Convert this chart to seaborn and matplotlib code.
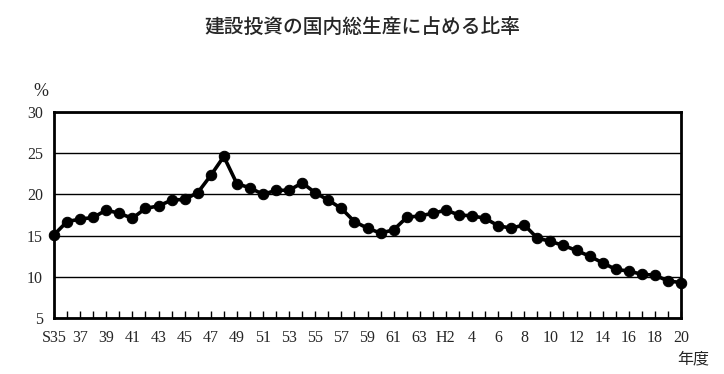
import matplotlib
matplotlib.use("Agg")
import matplotlib.pyplot as plt
import seaborn as sns
import numpy as np

# Fiscal years S35 (1960) .. S63, H1 .. H20 (2008)
years = [f"S{y}" for y in range(35, 64)] + [f"H{y}" for y in range(1, 21)]
ratio = [15.1, 16.7, 17.0, 17.2, 18.1, 17.7, 17.1, 18.3, 18.6, 19.3,
         19.4, 20.2, 22.3, 24.6, 21.3, 20.8, 20.0, 20.5, 20.5, 21.4,
         20.2, 19.3, 18.3, 16.7, 15.9, 15.3, 15.7, 17.2, 17.4, 17.7,
         18.1, 17.5, 17.4, 17.1, 16.2, 15.9, 16.3, 14.7, 14.3, 13.8,
         13.2, 12.5, 11.7, 10.9, 10.7, 10.3, 10.2, 9.5, 9.3]
tick_labels = ["S35", "37", "39", "41", "43", "45", "47", "49", "51", "53",
               "55", "57", "59", "61", "63", "H2", "4", "6", "8", "10",
               "12", "14", "16", "18", "20"]
y_ticks = [5, 10, 15, 20, 25, 30]
title = "建設投資の国内総生産に占める比率"

sns.set_style("white")
plt.rcParams["font.family"] = ["Liberation Serif", "Noto Sans CJK JP"]

fig = plt.figure(figsize=(7.24, 3.74), dpi=100)
ax = fig.add_axes([54/724, 1-318/374, (681-54)/724, (318-112)/374])

x = np.arange(len(years))
sns.lineplot(x=x, y=ratio, ax=ax, color="black", linewidth=2.6, marker="o",
             markersize=7.5, markeredgecolor="black", clip_on=False, zorder=5)

ax.set_xlim(0, len(years) - 1)
ax.set_ylim(5, 30)
ax.set_yticks(y_ticks)
ax.set_yticklabels([str(v) for v in y_ticks])
ax.yaxis.grid(True, color="black", linewidth=1)
ax.xaxis.grid(False)

labels = [""] * len(years)
for i, lab in zip(range(0, len(years), 2), tick_labels):
    labels[i] = lab
ax.set_xticks(x)
ax.set_xticklabels(labels)
ax.tick_params(axis="x", direction="in", length=5, width=1, color="black",
               pad=9, labelsize=11.5, bottom=True)
ax.tick_params(axis="y", length=0, pad=8, labelsize=11.5)
for s in ax.spines.values():
    s.set_color("black")
    s.set_linewidth(2)

fig.text(0.5, 1-27/374, title, ha="center", va="center", fontsize=14.2,
         family=["Noto Sans CJK JP"], weight="medium")
fig.text(41/724, 1-92/374, "%", ha="center", va="center", fontsize=13)
fig.text(693/724, 1-359/374, "年度", ha="center", va="center", fontsize=11.5,
         family=["Noto Sans CJK JP"])

fig.savefig("out.png", dpi=100)
